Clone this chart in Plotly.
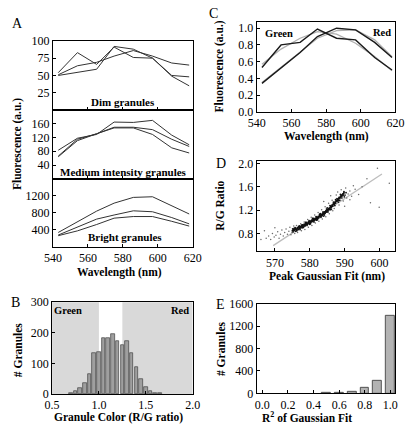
import plotly.graph_objects as go

W, H = 415, 433

# ---------------- Panel A ----------------
wavelength = [543, 554, 565, 575, 586, 597, 608, 618]
dim_1 = [54, 83, 66, 91, 76, 75, 49, 35]
dim_2 = [51, 64, 69, 78, 86, 78, 68, 65]
dim_3 = [50, 55, 59, 92, 88, 75, 50, 48]
med_1 = [83, 118, 129, 165, 164, 170, 127, 99]
med_2 = [66, 115, 131, 150, 150, 143, 115, 94]
med_3 = [64, 111, 131, 148, 148, 129, 90, 75]
bright_1 = [340, 600, 841, 1028, 1163, 1178, 976, 774]
bright_2 = [280, 470, 654, 750, 848, 826, 690, 542]
bright_3 = [265, 378, 527, 676, 714, 714, 602, 490]

# ---------------- Panel B ----------------
rg_bin_centers = [0.70, 0.75, 0.80, 0.85, 0.90, 0.95, 1.00, 1.05, 1.10, 1.15,
                  1.20, 1.25, 1.30, 1.35, 1.40, 1.45, 1.50, 1.55, 1.60, 1.65]
rg_counts = [3, 8, 20, 37, 65, 135, 138, 184, 181, 196,
             173, 160, 173, 133, 88, 49, 24, 8, 4, 4]
green_cut = 1.0
red_cut = 1.25

# ---------------- Panel C ----------------
green_data = [0.53, 0.80, 0.83, 0.99, 0.88, 0.86, 0.65, 0.50]
green_fit = [0.57, 0.75, 0.88, 0.96, 0.93, 0.82, 0.66, 0.49]
red_data = [0.34, 0.53, 0.71, 0.90, 1.00, 0.98, 0.83, 0.65]
red_fit = [0.35, 0.53, 0.72, 0.88, 0.97, 0.98, 0.86, 0.66]

# ---------------- Panel D ----------------
band_nm = [
    575.0, 575.3, 575.6, 575.9, 576.1, 576.4, 576.6, 576.9, 577.1, 577.3, 577.5, 577.7,
    577.9, 578.1, 578.3, 578.5, 578.7, 578.9, 579.1, 579.3, 579.5, 579.7, 579.9, 580.1,
    580.3, 580.5, 580.7, 580.9, 581.1, 581.3, 581.5, 581.7, 581.9, 582.1, 582.3, 582.5,
    582.7, 582.9, 583.1, 583.3, 583.5, 583.7, 583.9, 584.1, 584.3, 584.5, 584.7, 584.9,
    585.1, 585.3, 585.5, 585.7, 585.9, 586.1, 586.3, 586.5, 586.7, 586.9, 587.1, 587.3,
    587.5, 587.7, 587.9, 588.1, 588.3, 588.5, 588.7, 588.9, 589.1, 589.3, 589.5, 589.7,
    575.2, 575.8, 576.3, 576.8, 577.2, 577.8, 578.2, 578.8, 579.2, 579.8, 580.2, 580.8,
    581.2, 581.8, 582.2, 582.8, 583.2, 583.8, 584.2, 584.8, 585.2, 585.8, 586.2, 586.8,
    587.2, 587.8, 588.2, 588.8, 589.2, 589.8, 590.1, 590.4, 589.9, 588.6, 587.4, 586.0,
    585.0, 584.0, 583.0, 582.0, 581.0, 580.0, 579.0, 578.0, 577.0, 576.0, 575.5,
    575.1, 575.4, 575.7, 576.0, 576.2, 576.5, 576.7, 577.0, 577.2, 577.4, 577.6, 577.8,
    578.0, 578.2, 578.4, 578.6, 578.8, 579.0, 579.2, 579.4, 579.6, 579.8, 580.0, 580.2,
    580.4, 580.6, 580.8, 581.0, 581.2, 581.4, 581.6, 581.8, 582.0, 582.2, 582.4, 582.6,
    582.8, 583.0, 583.2, 583.4, 583.6, 583.8, 584.0, 584.2, 584.4, 584.6, 584.8, 585.0,
    585.2, 585.4, 585.6, 585.8, 586.0, 586.2, 586.4, 586.6, 586.8, 587.0, 587.2, 587.4,
    587.6, 587.8, 588.0, 588.2, 588.4, 588.6, 588.8, 589.0, 589.2, 589.4, 589.6, 589.8,
]
band_ratio = [
    0.85, 0.87, 0.86, 0.88, 0.87, 0.89, 0.88, 0.90, 0.89, 0.92, 0.90, 0.93,
    0.91, 0.94, 0.93, 0.95, 0.94, 0.96, 0.97, 0.96, 0.98, 0.99, 0.98, 1.00,
    1.01, 1.00, 1.02, 1.03, 1.02, 1.04, 1.05, 1.04, 1.06, 1.07, 1.06, 1.08,
    1.09, 1.10, 1.11, 1.10, 1.12, 1.13, 1.14, 1.15, 1.16, 1.17, 1.18, 1.19,
    1.20, 1.21, 1.22, 1.23, 1.25, 1.26, 1.27, 1.28, 1.30, 1.31, 1.32, 1.33,
    1.35, 1.36, 1.37, 1.38, 1.40, 1.41, 1.42, 1.44, 1.45, 1.46, 1.48, 1.49,
    0.83, 0.90, 0.85, 0.92, 0.87, 0.95, 0.91, 0.99, 0.94, 1.02, 0.97, 1.06,
    1.00, 1.09, 1.04, 1.13, 1.08, 1.17, 1.12, 1.22, 1.17, 1.28, 1.22, 1.34,
    1.28, 1.40, 1.34, 1.47, 1.41, 1.52, 1.46, 1.50, 1.43, 1.37, 1.38, 1.21,
    1.24, 1.10, 1.14, 1.03, 1.06, 0.96, 0.99, 0.90, 0.93, 0.84, 0.89,
    0.88, 0.85, 0.87, 0.89, 0.86, 0.90, 0.87, 0.91, 0.90, 0.91, 0.94, 0.92,
    0.95, 0.94, 0.96, 0.93, 0.97, 0.96, 0.98, 0.97, 1.00, 0.97, 1.01, 0.99,
    1.02, 1.03, 1.01, 1.04, 1.05, 1.03, 1.06, 1.05, 1.08, 1.07, 1.09, 1.07,
    1.11, 1.10, 1.12, 1.13, 1.11, 1.15, 1.14, 1.17, 1.15, 1.19, 1.17, 1.21,
    1.19, 1.23, 1.21, 1.24, 1.27, 1.25, 1.29, 1.27, 1.32, 1.30, 1.34, 1.32,
    1.37, 1.35, 1.39, 1.37, 1.42, 1.40, 1.43, 1.46, 1.44, 1.47, 1.46, 1.50,
]
spread_nm = [
    567.0, 567.5, 568.2, 568.8, 569.3, 569.8, 570.3, 570.8, 571.2, 571.6, 572.0, 572.4,
    572.8, 573.2, 573.6, 574.0, 574.3, 574.6, 574.9, 575.4, 575.7, 576.2, 576.5, 577.4,
    577.6, 578.4, 578.6, 579.4, 579.6, 580.4, 580.6, 581.4, 581.6, 582.4, 582.6, 583.4,
    583.6, 584.4, 584.6, 585.4, 585.6, 586.4, 586.6, 587.6, 587.0, 588.0, 588.4, 589.0,
    589.6, 590.3, 590.6, 591.0, 591.5, 592.0, 593.0, 594.0, 596.4, 599.4, 602.8, 599.9,
    597.4, 595.0, 592.5, 586.0, 584.0, 566.0, 570.0, 590.0, 591.5,
]
spread_ratio = [
    0.85, 0.72, 0.76, 0.70, 0.80, 0.74, 0.77, 0.83, 0.72, 0.79, 0.86, 0.76,
    0.82, 0.88, 0.79, 0.84, 0.91, 0.78, 0.82, 0.93, 0.80, 0.94, 0.82, 0.97,
    0.85, 1.00, 0.87, 1.04, 0.91, 1.08, 0.94, 1.12, 0.98, 1.16, 1.01, 1.21,
    1.05, 1.26, 1.09, 1.32, 1.14, 1.37, 1.19, 1.46, 1.23, 1.51, 1.29, 1.55,
    1.36, 1.58, 1.41, 1.48, 1.53, 1.44, 1.56, 1.47, 1.74, 1.92, 1.66, 1.25,
    1.33, 1.60, 1.62, 1.45, 1.35, 0.70, 0.90, 1.27, 1.38,
]
trend_nm = [569.5, 600.7]
trend_ratio = [0.595, 1.82]

# ---------------- Panel E ----------------
r2_bin_centers = [0.5, 0.6, 0.7, 0.8, 0.9, 1.0]
r2_counts = [15, 15, 35, 105, 220, 1390]


def dom_x(a, b):
    return [a / W, b / W]


def dom_y(top, bottom):
    return [1 - bottom / H, 1 - top / H]


SERIF = "Liberation Serif, Times New Roman, Times, serif"
tickfont = dict(family=SERIF, size=12, color="black")


def axis(domain, anchor, rng, tickvals=None, showlabels=True, fmt=None):
    d = dict(domain=domain, anchor=anchor, range=rng, showline=True, linecolor="black",
             linewidth=1, mirror=True, ticks="inside", ticklen=3, tickcolor="black",
             showgrid=False, zeroline=False, tickfont=tickfont, showticklabels=showlabels,
             fixedrange=True)
    if tickvals is not None:
        d["tickvals"] = tickvals
        d["tickmode"] = "array"
    if fmt:
        d["tickformat"] = fmt
    return d


fig = go.Figure()
line_col = "#333333"
for ys, xa, ya in [(dim_1, "x", "y"), (dim_2, "x", "y"), (dim_3, "x", "y"),
                   (med_1, "x2", "y2"), (med_2, "x2", "y2"), (med_3, "x2", "y2"),
                   (bright_1, "x3", "y3"), (bright_2, "x3", "y3"), (bright_3, "x3", "y3")]:
    fig.add_trace(go.Scatter(x=wavelength, y=ys, mode="lines", xaxis=xa, yaxis=ya,
                             line=dict(color=line_col, width=1)))

fig.add_trace(go.Bar(x=rg_bin_centers, y=rg_counts, xaxis="x4", yaxis="y4", width=0.038,
                     marker=dict(color="#9f9f9f", line=dict(color="#505050", width=0.8))))

for ys, col, w in [(green_fit, "#b0b0b0", 1.3), (red_fit, "#b0b0b0", 1.3),
                   (green_data, "#1a1a1a", 1.4), (red_data, "#1a1a1a", 1.4)]:
    fig.add_trace(go.Scatter(x=wavelength, y=ys, mode="lines", xaxis="x5", yaxis="y5",
                             line=dict(color=col, width=w)))

fig.add_trace(go.Scatter(x=trend_nm, y=trend_ratio, mode="lines", xaxis="x6", yaxis="y6",
                         line=dict(color="#bdbdbd", width=1.3)))
fig.add_trace(go.Scatter(x=spread_nm, y=spread_ratio, mode="markers", xaxis="x6", yaxis="y6",
                         marker=dict(color="#6a6a6a", size=1.5)))
fig.add_trace(go.Scatter(x=band_nm, y=band_ratio, mode="markers", xaxis="x6", yaxis="y6",
                         marker=dict(color="#111111", size=1.8)))

fig.add_trace(go.Bar(x=r2_bin_centers, y=r2_counts, xaxis="x7", yaxis="y7", width=0.068,
                     marker=dict(color="#b3b3b3", line=dict(color="#444444", width=0.9))))

A_x = dom_x(46, 192)
wl_ticks = [540, 560, 580, 600, 620]
layout = dict(
    width=W, height=H, margin=dict(l=0, r=0, t=0, b=0),
    paper_bgcolor="white", plot_bgcolor="white", showlegend=False, bargap=0,
    xaxis=axis(A_x, "y", [540, 620], wl_ticks, showlabels=False),
    yaxis=axis(dom_y(35, 106.5), "x", [0, 100], [25, 50, 75, 100]),
    xaxis2=axis(A_x, "y2", [540, 620], wl_ticks, showlabels=False),
    yaxis2=axis(dom_y(106.5, 177.5), "x2", [0, 200], [40, 80, 120, 160]),
    xaxis3=axis(A_x, "y3", [540, 620], wl_ticks),
    yaxis3=axis(dom_y(177.5, 248), "x3", [0, 1600], [400, 800, 1200]),
    xaxis4=axis(dom_x(45, 192), "y4", [0.5, 2.0], [0.5, 1.0, 1.5, 2.0], fmt=".1f"),
    yaxis4=axis(dom_y(305, 400), "x4", [0, 300], [0, 100, 200, 300]),
    xaxis5=axis(dom_x(259, 404), "y5", [540, 620], wl_ticks),
    yaxis5=axis(dom_y(15, 108.3), "x5", [0, 1.08], [0, 0.2, 0.4, 0.6, 0.8, 1.0], fmt=".1f"),
    xaxis6=axis(dom_x(259, 403), "y6", [564.8, 604.3], [570, 580, 590, 600]),
    yaxis6=axis(dom_y(159, 252.3), "x6", [0.5, 2.045], [0.8, 1.2, 1.6, 2.0], fmt=".1f"),
    xaxis7=axis(dom_x(259, 404), "y7", [-0.043, 1.04], [0, 0.2, 0.4, 0.6, 0.8, 1.0], fmt=".1f"),
    yaxis7=axis(dom_y(306.7, 399.3), "x7", [0, 1600], [0, 400, 800, 1200, 1600]),
)

layout["shapes"] = [
    dict(type="rect", xref="x4", yref="y4 domain", x0=0.5, x1=green_cut, y0=0, y1=1,
         fillcolor="#d9d9d9", line=dict(width=0), layer="below"),
    dict(type="rect", xref="x4", yref="y4 domain", x0=red_cut, x1=2.0, y0=0, y1=1,
         fillcolor="#d9d9d9", line=dict(width=0), layer="below"),
]


def ann(text, x, y, size=12, bold=False, angle=0):
    t = f"<b>{text}</b>" if bold else text
    return dict(text=t, x=x / W, y=1 - y / H, xref="paper", yref="paper", showarrow=False,
                xanchor="center", yanchor="middle", textangle=angle,
                font=dict(family=SERIF, size=size, color="black"))


TS = 11.5
layout["annotations"] = [
    ann("A", 9, 17, 14), ann("B", 7, 305, 14), ann("C", 214, 7, 14),
    ann("D", 222, 162, 14), ann("E", 221, 307, 14),
    ann("Dim granules", 119, 98, 11, True),
    ann("Medium intensity granules", 120, 170, 11, True),
    ann("Bright granules", 121, 238, 11, True),
    ann("Wavelength (nm)", 116, 274, TS, True),
    ann("Fluorescence (a.u.)", 9, 142, TS, True, -90),
    ann("# Granules", 9, 354, TS, True, -90),
    ann("Granule Color (R/G ratio)", 114, 424, TS, True),
    ann("Green", 62, 314, 10.5, True), ann("Red", 179, 314, 10.5, True),
    ann("Fluorescence (a.u.)", 220, 61, TS, True, -90),
    ann("Wavelength (nm)", 332, 134, TS, True),
    ann("Green", 282, 27, 10.5, True), ann("Red", 390, 26, 10.5, True),
    ann("R/G Ratio", 221, 205, TS, True, -90),
    ann("Peak Gaussian Fit (nm)", 332, 278, TS, True),
    ann("# Granules", 221, 353, TS, True, -90),
    ann("R<sup>2</sup> of Gaussian Fit", 312, 424, TS, True),
]

fig.update_layout(**layout)
fig.write_html("out.html", config={"displayModeBar": False},
               post_script="document.body.style.margin='0';")
